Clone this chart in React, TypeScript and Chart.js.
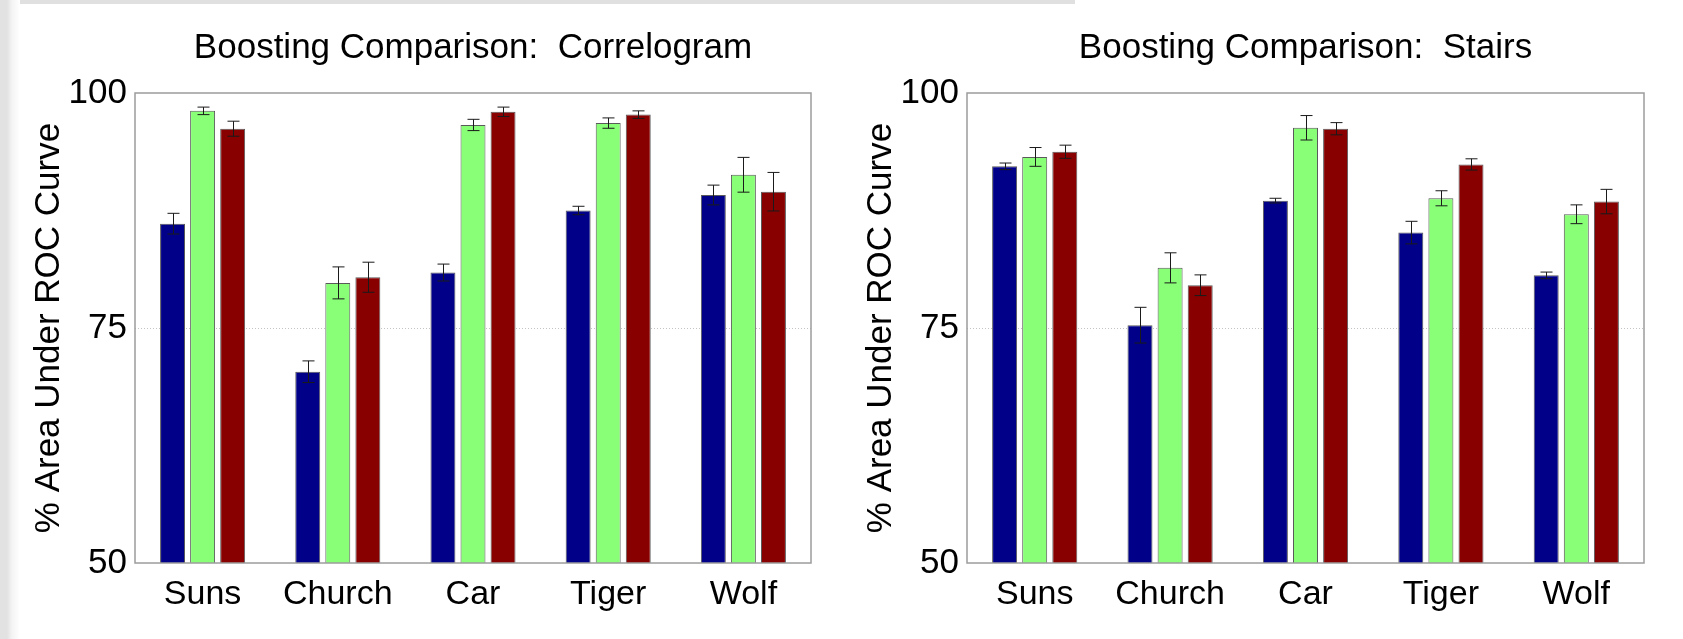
import React, { useEffect, useRef } from "react";
import { Chart, registerables } from "chart.js";

Chart.register(...registerables);

// ---------- data ----------
const categories = ["Suns", "Church", "Car", "Tiger", "Wolf"];
const yTicks = [50, 75, 100];

const correlogramBlue = [86.1, 70.35, 80.9, 87.5, 89.15];
const correlogramBlueErr = [1.1, 1.15, 0.9, 0.45, 1.05];
const correlogramGreen = [98.1, 79.8, 96.6, 96.8, 91.3];
const correlogramGreenErr = [0.4, 1.7, 0.6, 0.55, 1.85];
const correlogramRed = [96.2, 80.4, 98.0, 97.7, 89.5];
const correlogramRedErr = [0.8, 1.6, 0.5, 0.4, 2.05];

const stairsBlue = [92.2, 75.3, 88.55, 85.15, 80.6];
const stairsBlueErr = [0.35, 1.9, 0.25, 1.2, 0.35];
const stairsGreen = [93.2, 81.4, 96.3, 88.8, 87.1];
const stairsGreenErr = [1.0, 1.6, 1.3, 0.8, 1.0];
const stairsRed = [93.75, 79.55, 96.2, 92.4, 88.45];
const stairsRedErr = [0.7, 1.1, 0.65, 0.6, 1.3];

const yTitle = "% Area Under ROC Curve";
const FONT = "'Liberation Sans', Arial, sans-serif";

const errorBarPlugin = {
  id: "errorBars",
  afterDatasetsDraw(chart: any) {
    const ctx = chart.ctx;
    const yScale = chart.scales.y;
    ctx.save();
    ctx.strokeStyle = "#1a1a1a";
    ctx.lineWidth = 1;
    chart.data.datasets.forEach((ds: any, i: number) => {
      const meta = chart.getDatasetMeta(i);
      meta.data.forEach((el: any, j: number) => {
        const v = ds.data[j];
        const e = ds.errors[j];
        const x = Math.round(el.x) + 0.5;
        const yHi = yScale.getPixelForValue(v + e);
        const yLo = yScale.getPixelForValue(v - e);
        const cap = 6;
        ctx.beginPath();
        ctx.moveTo(x, yHi);
        ctx.lineTo(x, yLo);
        ctx.moveTo(x - cap, yHi);
        ctx.lineTo(x + cap, yHi);
        ctx.moveTo(x - cap, yLo);
        ctx.lineTo(x + cap, yLo);
        ctx.stroke();
      });
    });
    ctx.restore();
  },
};

const framePlugin = {
  id: "frame",
  afterDraw(chart: any) {
    const { ctx, chartArea } = chart;
    ctx.save();
    ctx.strokeStyle = "#9c9c9c";
    ctx.lineWidth = 1.5;
    ctx.strokeRect(
      chartArea.left,
      chartArea.top,
      chartArea.right - chartArea.left,
      chartArea.bottom - chartArea.top
    );
    // y-axis title
    ctx.fillStyle = "#000";
    ctx.font = `35px ${FONT}`;
    ctx.textAlign = "center";
    ctx.textBaseline = "middle";
    ctx.translate(chartArea.left - 86, (chartArea.top + chartArea.bottom) / 2);
    ctx.rotate(-Math.PI / 2);
    ctx.fillText(yTitle, 0, 0);
    ctx.restore();
  },
};

type PanelProps = {
  title: string;
  blue: number[];
  blueErr: number[];
  green: number[];
  greenErr: number[];
  red: number[];
  redErr: number[];
  left: number;
  width: number;
  yWidth: number;
  rightPad: number;
};

function BarPanel(p: PanelProps) {
  const ref = useRef<HTMLCanvasElement | null>(null);
  useEffect(() => {
    if (!ref.current) return;
    const mk = (data: number[], errors: number[], color: string) => ({
      data,
      errors,
      backgroundColor: color,
      borderColor: "#5a5a5a",
      borderWidth: 1,
      borderSkipped: false,
      categoryPercentage: 0.667,
      barPercentage: 0.83,
    });
    const chart = new Chart(ref.current, {
      type: "bar",
      data: {
        labels: categories,
        datasets: [
          mk(p.blue, p.blueErr, "#000088"),
          mk(p.green, p.greenErr, "#88ff77"),
          mk(p.red, p.redErr, "#880000"),
        ] as any,
      },
      options: {
        animation: false,
        responsive: false,
        layout: { padding: { left: 0, right: p.rightPad, top: 0, bottom: 0 } },
        plugins: {
          legend: { display: false },
          tooltip: { enabled: false },
          title: {
            display: true,
            text: p.title,
            fullSize: false,
            color: "#000",
            font: { family: FONT, size: 35, weight: "normal" },
            padding: { top: 27, bottom: 24 },
          },
        },
        scales: {
          x: {
            grid: { display: false, drawTicks: false },
            border: { display: false },
            ticks: {
              color: "#000",
              padding: 11,
              font: { family: FONT, size: 34 },
            },
            afterFit: (s: any) => {
              s.height = 76;
            },
          },
          y: {
            min: 50,
            max: 100,
            afterBuildTicks: (s: any) => {
              s.ticks = yTicks.map((v) => ({ value: v }));
            },
            grid: {
              drawTicks: false,
              lineWidth: 1,
              color: (c: any) => (c.tick && c.tick.value === 75 ? "#c4c4c4" : "rgba(0,0,0,0)"),
            },
            border: { display: false, dash: [1, 2] },
            ticks: {
              color: "#000",
              padding: 8,
              font: { family: FONT, size: 35 },
            },
            afterFit: (s: any) => {
              s.width = p.yWidth;
            },
          },
        },
      } as any,
      plugins: [errorBarPlugin, framePlugin],
    });
    return () => chart.destroy();
  }, []);
  return (
    <canvas
      ref={ref}
      width={p.width}
      height={639}
      style={{ position: "absolute", left: p.left, top: 0, width: p.width, height: 639 }}
    />
  );
}

export default function App() {
  useEffect(() => {
    document.body.style.margin = "0";
    document.body.style.background = "#fff";
  }, []);
  return (
    <div style={{ position: "relative", width: 1683, height: 639, overflow: "hidden", background: "#fff" }}>
      <div style={{ position: "absolute", left: 0, top: 0, width: 1075, height: 4, background: "#e0e0e0" }} />
      <div
        style={{
          position: "absolute",
          left: 0,
          top: 0,
          width: 20,
          height: 639,
          background: "linear-gradient(to right, #e2e2e2 0px, #e2e2e2 7px, #f4f4f4 12px, #ffffff 20px)",
        }}
      />
      <BarPanel
        title="Boosting Comparison:  Correlogram"
        blue={correlogramBlue}
        blueErr={correlogramBlueErr}
        green={correlogramGreen}
        greenErr={correlogramGreenErr}
        red={correlogramRed}
        redErr={correlogramRedErr}
        left={0}
        width={840}
        yWidth={135}
        rightPad={29}
      />
      <BarPanel
        title="Boosting Comparison:  Stairs"
        blue={stairsBlue}
        blueErr={stairsBlueErr}
        green={stairsGreen}
        greenErr={stairsGreenErr}
        red={stairsRed}
        redErr={stairsRedErr}
        left={840}
        width={843}
        yWidth={127}
        rightPad={39}
      />
    </div>
  );
}
